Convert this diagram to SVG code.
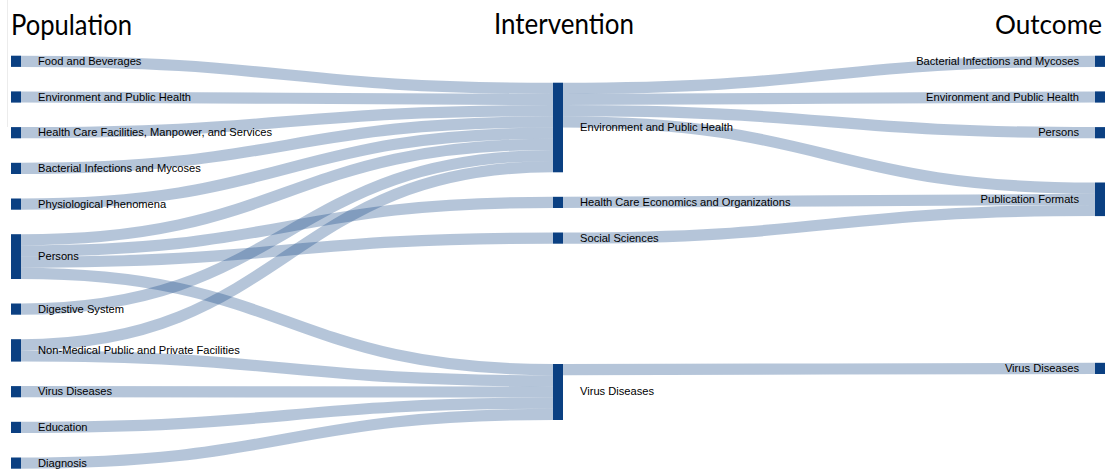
<svg xmlns="http://www.w3.org/2000/svg" width="1109" height="472" viewBox="0 0 1109 472">
<style>
.hdr{font-family:Lato,"Open Sans","Noto Sans",sans-serif;font-size:29px;fill:#000}
.lbl{font-family:"Liberation Sans",Arial,sans-serif;font-size:11.15px;fill:#000}
.node{fill:#0b4082}
.link{fill:none;stroke:#0b4082;stroke-opacity:0.3;stroke-width:11.2}
</style>
<rect width="1109" height="472" fill="#fff"/>
<line x1="7.5" y1="0" x2="7.5" y2="127" stroke="#ececec" stroke-width="1"/>
<g id="headers">
<text class="hdr" x="11" y="34.5" textLength="121" lengthAdjust="spacingAndGlyphs">Population</text>
<text class="hdr" x="494" y="33.5" textLength="140" lengthAdjust="spacingAndGlyphs">Intervention</text>
<text class="hdr" x="995" y="33.5" style="font-size:27.5px" textLength="107" lengthAdjust="spacingAndGlyphs">Outcome</text>
</g>
<g id="links">
<path class="link" d="M21,61.3C287,61.3 287,88.3 553,88.3"/>
<path class="link" d="M21,97C287,97 287,99.5 553,99.5"/>
<path class="link" d="M21,132.7C287,132.7 287,110.7 553,110.7"/>
<path class="link" d="M21,168.4C287,168.4 287,121.9 553,121.9"/>
<path class="link" d="M21,204.1C287,204.1 287,133.1 553,133.1"/>
<path class="link" d="M21,239.8C287,239.8 287,144.3 553,144.3"/>
<path class="link" d="M21,251C287,251 287,202.4 553,202.4"/>
<path class="link" d="M21,262.2C287,262.2 287,238.1 553,238.1"/>
<path class="link" d="M21,273.4C287,273.4 287,369.6 553,369.6"/>
<path class="link" d="M21,309.1C287,309.1 287,155.5 553,155.5"/>
<path class="link" d="M21,344.8C287,344.8 287,166.7 553,166.7"/>
<path class="link" d="M21,356C287,356 287,380.8 553,380.8"/>
<path class="link" d="M21,391.7C287,391.7 287,392 553,392"/>
<path class="link" d="M21,427.4C287,427.4 287,403.2 553,403.2"/>
<path class="link" d="M21,463.1C287,463.1 287,414.4 553,414.4"/>
<path class="link" d="M563,88.3C829,88.3 829,61.3 1095,61.3"/>
<path class="link" d="M563,99.5C829,99.5 829,97 1095,97"/>
<path class="link" d="M563,110.7C829,110.7 829,132.7 1095,132.7"/>
<path class="link" d="M563,121.9C829,121.9 829,188.1 1095,188.1"/>
<path class="link" d="M563,202.4C829,202.4 829,199.3 1095,199.3"/>
<path class="link" d="M563,238.1C829,238.1 829,210.5 1095,210.5"/>
<path class="link" d="M563,369.6C829,369.6 829,368.4 1095,368.4"/>
</g>
<g id="pop-food"><rect class="node" x="11" y="55.7" width="10" height="11.2"/><text class="lbl" x="38" y="65">Food and Beverages</text></g>
<g id="pop-env"><rect class="node" x="11" y="91.4" width="10" height="11.2"/><text class="lbl" x="38" y="100.7">Environment and Public Health</text></g>
<g id="pop-hcf"><rect class="node" x="11" y="127.1" width="10" height="11.2"/><text class="lbl" x="38" y="136.4">Health Care Facilities, Manpower, and Services</text></g>
<g id="pop-bact"><rect class="node" x="11" y="162.8" width="10" height="11.2"/><text class="lbl" x="38" y="172.1">Bacterial Infections and Mycoses</text></g>
<g id="pop-phys"><rect class="node" x="11" y="198.5" width="10" height="11.2"/><text class="lbl" x="38" y="207.8">Physiological Phenomena</text></g>
<g id="pop-persons"><rect class="node" x="11" y="234.2" width="10" height="44.8"/><text class="lbl" x="38" y="260.3">Persons</text></g>
<g id="pop-dig"><rect class="node" x="11" y="303.5" width="10" height="11.2"/><text class="lbl" x="38" y="312.8">Digestive System</text></g>
<g id="pop-nonmed"><rect class="node" x="11" y="339.2" width="10" height="22.4"/><text class="lbl" x="38" y="354.1">Non-Medical Public and Private Facilities</text></g>
<g id="pop-virus"><rect class="node" x="11" y="386.1" width="10" height="11.2"/><text class="lbl" x="38" y="395.4">Virus Diseases</text></g>
<g id="pop-edu"><rect class="node" x="11" y="421.8" width="10" height="11.2"/><text class="lbl" x="38" y="431.1">Education</text></g>
<g id="pop-diag"><rect class="node" x="11" y="457.5" width="10" height="11.2"/><text class="lbl" x="38" y="466.8">Diagnosis</text></g>
<g id="int-env"><rect class="node" x="553" y="82.7" width="10" height="89.6"/><text class="lbl" x="580" y="130.5">Environment and Public Health</text></g>
<g id="int-hce"><rect class="node" x="553" y="196.8" width="10" height="11.2"/><text class="lbl" x="580" y="206.1">Health Care Economics and Organizations</text></g>
<g id="int-soc"><rect class="node" x="553" y="232.5" width="10" height="11.2"/><text class="lbl" x="580" y="241.8">Social Sciences</text></g>
<g id="int-virus"><rect class="node" x="553" y="364" width="10" height="56"/><text class="lbl" x="580" y="395.3">Virus Diseases</text></g>
<g id="out-bact"><rect class="node" x="1095" y="55.7" width="10" height="11.2"/><text class="lbl" x="1079" y="65" text-anchor="end">Bacterial Infections and Mycoses</text></g>
<g id="out-env"><rect class="node" x="1095" y="91.4" width="10" height="11.2"/><text class="lbl" x="1079" y="100.7" text-anchor="end">Environment and Public Health</text></g>
<g id="out-persons"><rect class="node" x="1095" y="127.1" width="10" height="11.2"/><text class="lbl" x="1079" y="136.4" text-anchor="end">Persons</text></g>
<g id="out-pub"><rect class="node" x="1095" y="182.5" width="10" height="33.6"/><text class="lbl" x="1079" y="202.8" text-anchor="end">Publication Formats</text></g>
<g id="out-virus"><rect class="node" x="1095" y="362.8" width="10" height="11.2"/><text class="lbl" x="1079" y="372.1" text-anchor="end">Virus Diseases</text></g>
</svg>
